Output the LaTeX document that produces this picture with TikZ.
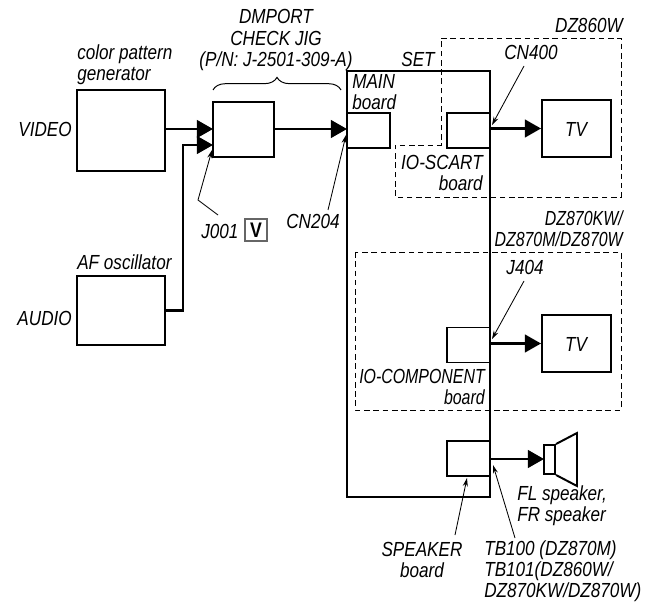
\documentclass[tikz,border=0pt]{standalone}
\usepackage{fontspec}
\setmainfont{Liberation Sans}[FakeStretch=0.84]
\usetikzlibrary{arrows.meta,decorations.pathreplacing}
\tikzset{
  unit/.style={draw, line width=1.4pt, minimum width=1.075cm, minimum height=0.875cm, inner sep=0pt},
  label/.style={inner sep=0pt, align=left, font=\fontsize{14.5}{15}\selectfont\itshape},
  tight/.style={font=\fontsize{14.5}{15}\selectfont\itshape\addfontfeature{FakeStretch=0.78}},
  feed/.style={line width=1.6pt, -{Triangle[length=11.4pt, width=12.5pt]}},
  lead/.style={line width=0.6pt, -{Stealth[length=6pt, width=3.6pt]}},
  zone/.style={dashed, line width=0.6pt, dash pattern=on 4pt off 2.6pt}
}
\begin{document}
\begin{tikzpicture}[x=0.025cm, y=-0.025cm]
\useasboundingbox (0,0) rectangle (663,603);
\node[unit, minimum width=2.2cm, minimum height=2.025cm] (cpg) at (121,130.5) {};
\node[unit, minimum width=2.2cm, minimum height=1.725cm] (afosc) at (121,310.5) {};
\node[unit, minimum width=1.525cm, minimum height=1.375cm] (jig) at (243.5,129.5) {};
\node[unit, line width=1.6pt, minimum width=3.575cm, minimum height=10.65cm] (set) at (418.5,284) {};
\node[unit] (main) at (368.5,130.5) {};
\node[unit] (scart) at (468.5,130.5) {};
\node[unit] (comp) at (468.5,345) {};
\node[unit] (spkb) at (468.5,458.5) {};
\node[unit, minimum width=1.725cm, minimum height=1.425cm] (tva) at (576.5,128.5) {};
\node[unit, minimum width=1.725cm, minimum height=1.425cm] (tvb) at (576.5,343.5) {};
\node[unit, minimum width=0.275cm, minimum height=0.725cm] (spk) at (549.5,459.5) {};
\coordinate (c1) at (577,433);
\coordinate (c2) at (577,486);
\draw[line width=1.4pt] (spk.north east) -- (c1) -- (c2) -- (spk.south east);
% signal lines
\coordinate (vin) at (213,129);
\coordinate (ain) at (213,145);
\coordinate (akink) at (183,145);
\coordinate (mainin) at (347,129);
\coordinate (scout) at (490,128.5);
\coordinate (coout) at (490,343.5);
\coordinate (spout) at (490,459);
\coordinate (spin) at (544,459);
\draw[feed] (cpg.east |- vin) -- (vin);
\draw[feed] (afosc.east) -| (akink) -- (ain);
\draw[feed] (jig.east |- mainin) -- (mainin);
\draw[feed] (scout) -- (tva.west);
\draw[feed] (coout) -- (tvb.west);
\draw[feed] (spout) -- (spin);
% dashed areas
\coordinate (za) at (441,38);
\coordinate (zb) at (621,38);
\coordinate (zc) at (621,197);
\coordinate (zd) at (395,197);
\coordinate (ze) at (395,145);
\coordinate (zf) at (441,145);
\draw[zone] (za) -- (zb) -- (zc) -- (zd) -- (ze) -- (zf) -- cycle;
\coordinate (zg) at (355,252);
\coordinate (zh) at (621,410);
\draw[zone] (zg) rectangle (zh);
% brace
\coordinate (bl) at (213,90);
\coordinate (br) at (341,90);
\draw[line width=0.7pt, decorate, decoration={brace, amplitude=9pt}] (bl) -- (br);
% labels
\node[label, anchor=east] (video) at (72,129) {VIDEO};
\node[label, anchor=east] (audio) at (72,318) {AUDIO};
\node[label, anchor=west] (cpgtxt) at (77,65) {color pattern\\generator};
\node[label, anchor=west] (aftxt) at (77,262) {AF oscillator};
\node[label, align=center] (jigtxt) at (276,40) {DMPORT\\CHECK JIG\\(P/N: J-2501-309-A)};
\node[label] (settxt) at (418,59) {SET};
\node[label, anchor=west] (maintxt) at (352,92.5) {MAIN\\board};
\node[label, anchor=east] (dza) at (623,25) {DZ860W};
\node[label] (cna) at (531,52) {CN400};
\node[label] (tvatxt) at (576,129) {TV};
\node[label] (tvbtxt) at (576,344) {TV};
\node[label, anchor=east, align=right] (scarttxt) at (483,173) {IO-SCART\\board};
\node[label, tight, anchor=east, align=right] (dzb) at (623,229) {DZ870KW/\\DZ870M/DZ870W};
\node[label] (jb) at (525,267) {J404};
\node[label, tight, anchor=east, align=right] (comptxt) at (485,387) {IO-COMPONENT\\board};
\node[label, anchor=west] (spktxt) at (517,506) {FL speaker,\\FR speaker};
\node[label, align=center] (spkbtxt) at (422,560) {SPEAKER\\board};
\node[label, anchor=west] (tbtxt) at (484,571) {TB100 (DZ870M)\\TB101(DZ860W/\\DZ870KW/DZ870W)};
\node[label, anchor=west] (jc) at (201,231) {J001};
\node[draw=black!60, line width=0.8pt, minimum width=0.55cm, minimum height=0.55cm, inner sep=0pt, font=\fontsize{15}{15}\selectfont\bfseries] (vmark) at (256,230) {V};
\node[label] (cnb) at (313,221) {CN204};
% leaders
\coordinate (ja) at (218,215);
\coordinate (jd) at (198,200);
\coordinate (je) at (212,150);
\draw[lead] (ja) -- (jd) -- (je);
\coordinate (cb1) at (328,210);
\coordinate (cb2) at (346,135);
\draw[lead] (cb1) -- (cb2);
\coordinate (ca1) at (524,66);
\coordinate (ca2) at (492,125);
\draw[lead] (ca1) -- (ca2);
\coordinate (jb1) at (524,281);
\coordinate (jb2) at (492,339);
\draw[lead] (jb1) -- (jb2);
\coordinate (tb1) at (515,538);
\coordinate (tb2) at (493,465);
\draw[lead] (tb1) -- (tb2);
\coordinate (sb1) at (455,535);
\coordinate (sb2) at (467,478);
\draw[lead] (sb1) -- (sb2);
\end{tikzpicture}
\end{document}
